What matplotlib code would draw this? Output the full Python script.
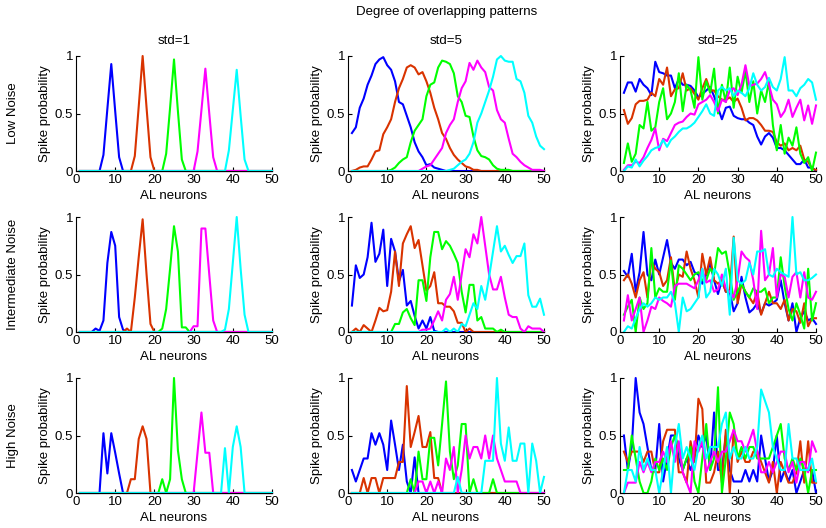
import numpy as np
import matplotlib.pyplot as plt

plt.rcParams["font.family"] = ["Liberation Sans", "DejaVu Sans"]

neurons = np.arange(1, 51)
line_colors = ["#0000ff", "#d93300", "#00ff00", "#ff00ff", "#00ffff"]
row_names = ["Low Noise", "Intermediate Noise", "High Noise"]
col_names = ["std=1", "std=5", "std=25"]

# each panel: [blue, red, green, magenta, cyan], spike probability for neurons 1..50
low_std1 = [
    [0] * 6 + [0.14, 0.54, 0.93, 0.52, 0.12] + [0] * 39,
    [0] * 14 + [0.13, 0.56, 1.0, 0.55, 0.12] + [0] * 31,
    [0] * 22 + [0.15, 0.55, 0.97, 0.52, 0.1] + [0] * 23,
    [0] * 30 + [0.17, 0.53, 0.89, 0.5, 0.12] + [0] * 15,
    [0] * 38 + [0.18, 0.53, 0.88, 0.48, 0.1] + [0] * 7,
]
low_std5 = [
    [0.33, 0.38, 0.55, 0.63, 0.75, 0.83, 0.93, 0.97, 0.99, 0.92,
     0.88, 0.78, 0.6, 0.58, 0.48, 0.38, 0.25, 0.17, 0.12, 0.05,
     0.06, 0.03, 0.02, 0.01, 0] + [0] * 25,
    [0, 0.01, 0.03, 0.04, 0.04, 0.1, 0.17, 0.18, 0.32, 0.38,
     0.45, 0.6, 0.72, 0.8, 0.9, 0.92, 0.9, 0.84, 0.86, 0.78,
     0.68, 0.55, 0.45, 0.33, 0.28, 0.2, 0.14, 0.1, 0.07, 0.04,
     0.03, 0.01, 0.01] + [0] * 17,
    [0] * 10 + [0.01, 0.03, 0.07, 0.1, 0.12, 0.25, 0.35, 0.4, 0.45, 0.65,
                0.75, 0.77, 0.9, 0.96, 0.95, 0.93, 0.85, 0.65, 0.6, 0.48,
                0.47, 0.3, 0.18, 0.13, 0.12, 0.1, 0.05, 0.02, 0.01, 0.01,
                0.01] + [0] * 9,
    [0] * 18 + [0.02, 0.04, 0.05, 0.1, 0.15, 0.2, 0.33, 0.4, 0.45, 0.6,
                0.72, 0.78, 0.94, 0.88, 0.96, 0.9, 0.86, 0.73, 0.7, 0.53,
                0.45, 0.42, 0.28, 0.15, 0.12, 0.08, 0.05, 0.03, 0.01, 0.01,
                0.01, 0],
    [0] * 25 + [0.01, 0.02, 0.05, 0.08, 0.1, 0.15, 0.25, 0.42, 0.5, 0.6,
                0.7, 0.82, 0.97, 1.0, 0.96, 0.95, 0.95, 0.8, 0.78, 0.68,
                0.48, 0.42, 0.3, 0.22, 0.19],
]
low_std25 = [
    [0.68, 0.77, 0.77, 0.69, 0.8, 0.75, 0.72, 0.66, 0.95, 0.86,
     0.85, 0.83, 0.83, 0.72, 0.8, 0.75, 0.75, 0.74, 0.7, 0.64,
     0.67, 0.7, 0.73, 0.65, 0.55, 0.45, 0.55, 0.56, 0.48, 0.46,
     0.45, 0.45, 0.42, 0.4, 0.3, 0.23, 0.3, 0.33, 0.29, 0.2,
     0.2, 0.18, 0.14, 0.1, 0.06, 0.06, 0.1, 0.03, 0.03, 0.0],
    [0.53, 0.41, 0.46, 0.58, 0.61, 0.61, 0.62, 0.68, 0.65, 0.8,
     0.75, 0.9, 0.65, 0.71, 0.72, 0.85, 0.7, 0.72, 0.67, 0.62,
     0.72, 0.8, 0.7, 0.7, 0.65, 0.62, 0.62, 0.64, 0.6, 0.63,
     0.55, 0.44, 0.46, 0.46, 0.44, 0.4, 0.35, 0.35, 0.34, 0.25,
     0.22, 0.24, 0.18, 0.2, 0.18, 0.22, 0.1, 0.08, 0.02, 0.01],
    [0.07, 0.24, 0.08, 0.15, 0.4, 0.37, 0.6, 0.35, 0.38, 0.6,
     0.72, 0.45, 0.5, 0.6, 0.85, 0.52, 0.75, 0.7, 0.55, 0.99,
     0.62, 0.78, 0.68, 0.89, 0.5, 0.75, 0.6, 0.9, 0.55, 0.82,
     0.68, 0.87, 0.6, 0.78, 0.5, 0.7, 0.6, 0.78, 0.4, 0.18,
     0.4, 0.15, 0.29, 0.22, 0.38, 0.15, 0.07, 0.12, 0.0, 0.16],
    [0.01, 0.05, 0.05, 0.08, 0.07, 0.12, 0.2, 0.27, 0.37, 0.18,
     0.28, 0.26, 0.33, 0.4, 0.42, 0.43, 0.47, 0.5, 0.49, 0.58,
     0.6, 0.62, 0.66, 0.6, 0.52, 0.62, 0.6, 0.7, 0.72, 0.66,
     0.75, 0.92, 0.74, 0.75, 0.76, 0.8, 0.86, 0.75, 0.62, 0.58,
     0.47, 0.52, 0.62, 0.47, 0.55, 0.62, 0.44, 0.57, 0.41, 0.57],
    [0.0, 0.04, 0.03, 0.1, 0.04, 0.09, 0.13, 0.18, 0.2, 0.21,
     0.27, 0.21, 0.27, 0.3, 0.34, 0.37, 0.37, 0.39, 0.42, 0.47,
     0.52, 0.58, 0.5, 0.48, 0.7, 0.73, 0.7, 0.72, 0.65, 0.7,
     0.68, 0.65, 0.72, 0.85, 0.75, 0.7, 0.73, 0.81, 0.73, 0.7,
     0.8, 0.99, 0.7, 0.7, 0.65, 0.72, 0.75, 0.8, 0.77, 0.62],
]

mid_std1 = [
    [0] * 4 + [0.03, 0.01, 0.1, 0.6, 0.87, 0.75, 0.13, 0.02] + [0] * 38,
    [0] * 12 + [0.03, 0.0, 0.3, 0.65, 0.98, 0.5, 0.07] + [0] * 31,
    [0] * 21 + [0.03, 0.2, 0.55, 0.92, 0.7, 0.04, 0.04] + [0] * 22,
    [0] * 29 + [0.05, 0.05, 0.9, 0.9, 0.5, 0.1] + [0] * 15,
    [0] * 37 + [0.02, 0.2, 0.6, 1.0, 0.55, 0.15] + [0] * 7,
]
mid_std5 = [
    [0.23, 0.58, 0.47, 0.5, 0.65, 0.95, 0.61, 0.68, 0.89, 0.4,
     0.81, 0.7, 0.44, 0.54, 0.23, 0.27, 0.14, 0.03, 0.1, 0.03,
     0.13, 0.01] + [0] * 28,
    [0, 0.03, 0, 0.06, 0.03, 0, 0.1, 0.21, 0.18, 0.19,
     0.35, 0.7, 0.4, 0.77, 0.85, 0.92, 0.73, 0.8, 0.58, 0.36,
     0.4, 0.52, 0.25, 0.25, 0.22, 0.22, 0.18, 0.08, 0.08, 0,
     0.03] + [0] * 19,
    [0] * 11 + [0.07, 0.07, 0.17, 0.2, 0.12, 0.06, 0.45, 0.45, 0.27,
                0.65, 0.87, 0.87, 0.72, 0.79, 0.75, 0.68, 0.6, 0.35, 0.17,
                0.41, 0.41, 0.1, 0.13, 0.03, 0.03, 0.03, 0, 0.02] + [0] * 11,
    [0] * 17 + [0.0, 0.02, 0.02, 0.03, 0.1, 0.18, 0.1, 0.28, 0.33, 0.48,
                0.28, 0.5, 0.72, 0.65, 0.85, 0.77, 1.0, 0.75, 0.5, 0.37,
                0.37, 0.48, 0.3, 0.15, 0.13, 0.13, 0.03, 0, 0.05, 0.03,
                0.03, 0.03, 0],
    [0] * 23 + [0, 0.03, 0, 0.03, 0, 0.07, 0.05, 0.15, 0.25, 0.2,
                0.4, 0.28, 0.48, 0.7, 0.92, 0.7, 0.75, 0.67, 0.6, 0.66,
                0.66, 0.77, 0.32, 0.22, 0.22, 0.29, 0.15],
]
mid_std25 = [
    [0.53, 0.48, 0.68, 0.35, 0.52, 0.87, 0.5, 0.45, 0.63, 0.5,
     0.65, 0.8, 0.6, 0.55, 0.63, 0.63, 0.58, 0.61, 0.52, 0.5,
     0.42, 0.5, 0.6, 0.45, 0.33, 0.45, 0.35, 0.35, 0.18, 0.25,
     0.48, 0.3, 0.17, 0.2, 0.25, 0.16, 0.25, 0.23, 0.25, 0.28,
     0.45, 0.25, 0.1, 0.25, 0.0, 0.12, 0.18, 0.1, 0.12, 0.07],
    [0.45, 0.5, 0.42, 0.3, 0.45, 0.52, 0.3, 0.62, 0.55, 0.52,
     0.4, 0.45, 0.65, 0.35, 0.5, 0.48, 0.7, 0.55, 0.45, 0.3,
     0.68, 0.5, 0.65, 0.45, 0.42, 0.45, 0.35, 0.35, 0.83, 0.25,
     0.42, 0.35, 0.3, 0.25, 0.35, 0.15, 0.25, 0.35, 0.25, 0.25,
     0.2, 0.28, 0.1, 0.2, 0.18, 0.08, 0.25, 0.05, 0.12, 0.12],
    [0.15, 0.22, 0.28, 0.0, 0.3, 0.2, 0.25, 0.73, 0.3, 0.38,
     0.35, 0.35, 0.62, 0.28, 0.58, 0.55, 0.5, 0.45, 0.5, 0.52,
     0.45, 0.45, 0.55, 0.5, 0.73, 0.68, 0.7, 0.5, 0.28, 0.35,
     0.42, 0.35, 0.3, 0.38, 0.35, 0.35, 0.38, 0.25, 0.3, 0.3,
     0.65, 0.4, 0.2, 0.1, 0.25, 0.15, 0.03, 0.55, 0.1, 0.25],
    [0.1, 0.32, 0.1, 0.2, 0.3, 0.0, 0.1, 0.22, 0.2, 0.3,
     0.27, 0.25, 0.22, 0.4, 0.42, 0.42, 0.42, 0.4, 0.38, 0.45,
     0.55, 0.43, 0.45, 0.35, 0.37, 0.5, 0.38, 0.35, 0.3, 0.45,
     0.7, 0.65, 0.62, 0.45, 0.2, 0.88, 0.45, 0.5, 0.73, 0.3,
     0.5, 0.48, 0.3, 0.48, 0.52, 0.3, 0.52, 0.3, 0.28, 0.35],
    [0.0, 0.05, 0.03, 0.12, 0.2, 0.25, 0.22, 0.25, 0.3, 0.28,
     0.3, 0.3, 0.35, 0.25, 0.0, 0.3, 0.18, 0.2, 0.25, 0.3,
     0.55, 0.3, 0.35, 0.55, 0.5, 0.4, 0.55, 0.15, 0.82, 0.45,
     0.42, 0.45, 0.6, 0.5, 0.7, 0.7, 0.72, 0.5, 0.48, 0.55,
     0.52, 0.5, 0.48, 1.0, 0.5, 0.52, 0.45, 0.45, 0.47, 0.5],
]

high_std1 = [
    [0] * 6 + [0.52, 0.17, 0.52, 0.35, 0.17] + [0] * 39,
    [0] * 13 + [0.12, 0.12, 0.47, 0.58, 0.47] + [0] * 32,
    [0] * 21 + [0.12, 0.0, 0.12, 1.0, 0.37, 0.12] + [0] * 23,
    [0] * 30 + [0.35, 0.7, 0.35, 0.35] + [0] * 16,
    [0] * 37 + [0.39, 0.0, 0.4, 0.58, 0.4] + [0] * 8,
]
high_std5 = [
    [0.2, 0.1, 0.2, 0.3, 0.3, 0.52, 0.42, 0.52, 0.42, 0.2,
     0.63, 0.42, 0.2, 0.42, 0.1, 0, 0.31, 0] + [0] * 32,
    [0, 0, 0, 0.13, 0, 0.13, 0.13, 0, 0.13, 0.13,
     0.13, 0.13, 0.27, 0.27, 0.93, 0.4, 0.53, 0.67, 0.4, 0.4,
     0.53, 0.13, 0.13, 0] + [0] * 26,
    [0] * 14 + [0, 0.12, 0, 0.36, 0.12, 0.12, 0.48, 0.48, 0.24, 0.6,
                0.97, 0.36, 0.12, 0.24, 0.6, 0.6, 0, 0.12, 0, 0,
                0, 0, 0.12, 0] + [0] * 12,
    [0] * 17 + [0.1, 0.1, 0, 0.1, 0, 0.1, 0, 0.3, 0.2, 0.4,
                0, 0.2, 0.5, 0.3, 0.4, 0.4, 0.3, 0.5, 0.3, 0.5,
                0.3, 0.2, 0.1, 0.1, 0.1, 0.1, 0] + [0] * 6,
    [0] * 27 + [0.14, 0, 0, 0, 0, 0, 0, 0.28, 0.28, 0.28,
                1.0, 0.43, 0.28, 0.57, 0.28, 0.28, 0.43, 0.43, 0, 0.43,
                0.28, 0, 0.14],
]
high_std25 = [
    [0.5, 0.2, 0.4, 1.0, 0.7, 0.6, 0.4, 0.2, 0.2, 0.6,
     0.1, 0.3, 0.5, 0.5, 0.3, 0.2, 0.3, 0.2, 0.3, 0.5,
     0.4, 0.5, 0.2, 0.7, 0.2, 0.2, 0.5, 0.2, 0.1, 0.1,
     0.1, 0.2, 0.1, 0.2, 0.1, 0.5, 0.3, 0.1, 0.2, 0.5,
     0.1, 0.2, 0.1, 0.2, 0.0, 0.1, 0.2, 0.2, 0.2, 0.0],
    [0.36, 0.27, 0.36, 0.36, 0.36, 0.27, 0.36, 0.36, 0.18, 0.18,
     0.45, 0.55, 0.55, 0.55, 0.18, 0.18, 0.09, 0.45, 0.27, 0.82,
     0.73, 0.09, 0.09, 0.18, 0.36, 0.09, 0.55, 0.0, 0.55, 0.27,
     0.36, 0.27, 0.27, 0.36, 0.36, 0.27, 0.18, 0.09, 0.27, 0.0,
     0.27, 0.18, 0.09, 0.09, 0.18, 0.45, 0.09, 0.45, 0.09, 0.09],
    [0.2, 0.2, 0.5, 0.3, 0.1, 0.0, 0.0, 0.1, 0.3, 0.2,
     0.3, 0.2, 0.4, 0.5, 0.4, 0.2, 0.3, 0.4, 0.1, 0.0,
     0.3, 0.6, 0.2, 0.3, 0.92, 0.0, 0.3, 0.7, 0.6, 0.3,
     0.4, 0.3, 0.4, 0.4, 0.3, 0.3, 0.3, 0.3, 0.4, 0.5,
     0.6, 0.3, 0.2, 0.3, 0.2, 0.3, 0.2, 0.0, 0.2, 0.2],
    [0.0, 0.09, 0.09, 0.09, 0.27, 0.18, 0.27, 0.18, 0.27, 0.27,
     0.36, 0.27, 0.45, 0.27, 0.45, 0.18, 0.09, 0.0, 0.45, 0.36,
     0.45, 0.18, 0.27, 0.36, 0.27, 0.36, 0.36, 0.45, 0.55, 0.45,
     0.45, 0.36, 0.45, 0.55, 0.36, 0.18, 0.18, 0.27, 0.18, 0.27,
     0.36, 0.36, 0.18, 0.27, 0.09, 0.27, 0.27, 0.18, 0.45, 0.36],
    [0.0, 0.2, 0.2, 0.1, 0.4, 0.2, 0.3, 0.2, 0.2, 0.0,
     0.2, 0.4, 0.0, 0.4, 0.6, 0.3, 0.4, 0.3, 0.2, 0.4,
     0.5, 0.3, 0.4, 0.4, 0.4, 0.6, 0.7, 0.3, 0.4, 0.3,
     0.3, 0.4, 0.3, 0.3, 0.4, 0.9, 0.8, 0.7, 0.4, 0.3,
     0.2, 0.2, 0.6, 0.3, 0.3, 0.2, 0.2, 0.2, 0.3, 0.1],
]

panels = [
    [low_std1, low_std5, low_std25],
    [mid_std1, mid_std5, mid_std25],
    [high_std1, high_std5, high_std25],
]

W, H = 826, 528
fig = plt.figure(figsize=(W / 100, H / 100), dpi=100)

col_left = [76, 348, 620]
row_top = [56, 217, 378]
ax_w, ax_h = 196, 115
fs = 9.5

for r in range(3):
    for c in range(3):
        ax = fig.add_axes([col_left[c] / W, 1 - (row_top[r] + ax_h) / H,
                           ax_w / W, ax_h / H])
        for series, color in zip(panels[r][c], line_colors):
            ax.plot(neurons, series, color=color, lw=1.5, clip_on=False)
        ax.set_xlim(0, 50)
        ax.set_ylim(0, 1)
        ax.set_xticks([0, 10, 20, 30, 40, 50])
        ax.set_yticks([0, 0.5, 1])
        ax.set_yticklabels(["0", "0.5", "1"])
        ax.spines["top"].set_visible(False)
        ax.spines["right"].set_visible(False)
        ax.spines["left"].set_linewidth(0.8)
        ax.spines["bottom"].set_linewidth(0.8)
        ax.tick_params(direction="in", length=3, width=0.8, labelsize=fs, pad=2)
        ax.set_xlabel("AL neurons", fontsize=fs, labelpad=3)
        ax.set_ylabel("Spike probability", fontsize=fs, labelpad=3)
        if r == 0:
            ax.set_title(col_names[c], fontsize=fs, pad=9)
    fig.text(13 / W, 1 - (row_top[r] + ax_h / 2) / H, row_names[r],
             rotation=90, ha="center", va="center", fontsize=fs)

fig.text(447 / W, 1 - 12 / H, "Degree of overlapping patterns",
         ha="center", va="center", fontsize=fs)

fig.savefig("out.png", dpi=100)
